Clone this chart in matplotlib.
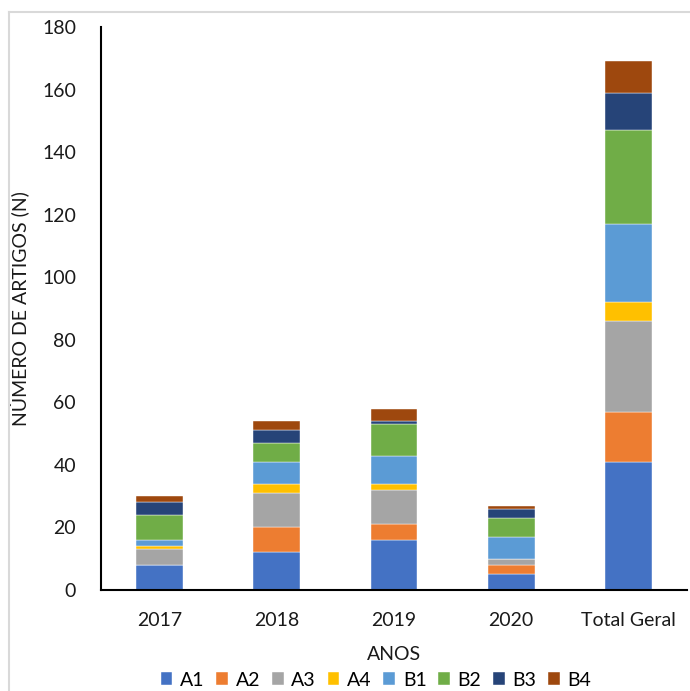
import numpy as np
import matplotlib.pyplot as plt
from matplotlib.lines import Line2D

plt.rcParams['font.family'] = ['Lato', 'DejaVu Sans']

# Dados
anos = ['2017', '2018', '2019', '2020', 'Total Geral']
estratos = ['A1', 'A2', 'A3', 'A4', 'B1', 'B2', 'B3', 'B4']
a1 = [8, 12, 16, 5, 41]
a2 = [0, 8, 5, 3, 16]
a3 = [5, 11, 11, 2, 29]
a4 = [1, 3, 2, 0, 6]
b1 = [2, 7, 9, 7, 25]
b2 = [8, 6, 10, 6, 30]
b3 = [4, 4, 1, 3, 12]
b4 = [2, 3, 4, 1, 10]
valores = [a1, a2, a3, a4, b1, b2, b3, b4]
cores = ['#4472C4', '#ED7D31', '#A5A5A5', '#FFC000',
         '#5B9BD5', '#70AD47', '#264478', '#9E480E']

fig = plt.figure(figsize=(6.9, 6.91), dpi=100)
ax = fig.add_axes([101 / 690, 1 - 590 / 691, 586 / 690, 563 / 691])

x = np.arange(len(anos))
base = np.zeros(len(anos))
for nome, v, c in zip(estratos, valores, cores):
    ax.bar(x, v, bottom=base, width=0.4, color=c, label=nome,
           edgecolor='white', linewidth=0.3)
    base += np.array(v)

ax.set_xlim(-0.5, 4.5)
ax.set_ylim(0, 180)
ax.set_yticks(range(0, 181, 20))
ax.set_xticks(x)
ax.set_xticklabels(anos)
ax.tick_params(axis='both', length=0, labelsize=14, colors='#1a1a1a')
ax.tick_params(axis='y', pad=18)
ax.tick_params(axis='x', pad=16)
for s in ['top', 'right']:
    ax.spines[s].set_visible(False)
ax.spines['left'].set_linewidth(1.5)
ax.spines['bottom'].set_linewidth(1.5)

ax.set_ylabel('NÚMERO DE ARTIGOS (N)', fontsize=14, color='#1a1a1a')
ax.yaxis.set_label_coords(-0.122, 0.5)
ax.set_xlabel('ANOS', fontsize=14, color='#1a1a1a')
ax.xaxis.set_label_coords(0.5, -0.1)

ax.legend(loc='center', bbox_to_anchor=(376 / 690, 1 - 680 / 691), bbox_transform=fig.transFigure,
          ncol=8, frameon=False, fontsize=14, handlelength=0.6, handleheight=0.6,
          handletextpad=0.4, columnspacing=0.6, borderaxespad=0.0, borderpad=0.0)

# borda cinza clara
fig.add_artist(Line2D([9 / 690, 9 / 690], [0, 1 - 12 / 691], color='#D9D9D9', lw=1.5,
                      transform=fig.transFigure))
fig.add_artist(Line2D([9 / 690, 1], [1 - 12 / 691, 1 - 12 / 691], color='#D9D9D9', lw=1.5,
                      transform=fig.transFigure))

fig.savefig('out.png', dpi=100)
